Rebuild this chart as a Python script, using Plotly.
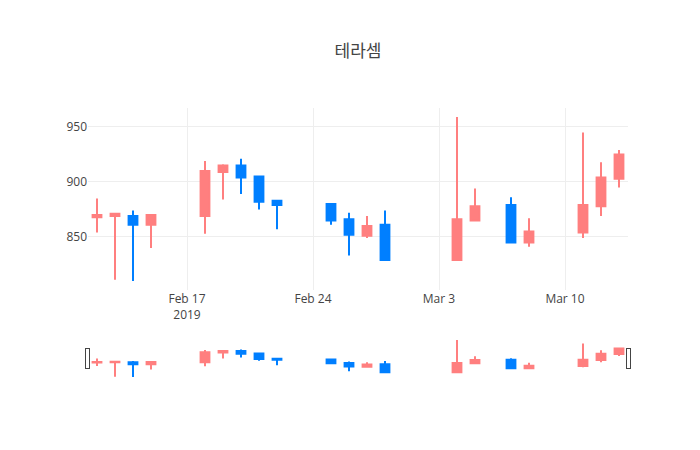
import plotly.graph_objects as go

dates = ["2019-02-12","2019-02-13","2019-02-14","2019-02-15","2019-02-18","2019-02-19","2019-02-20","2019-02-21","2019-02-22",
         "2019-02-25","2019-02-26","2019-02-27","2019-02-28","2019-03-04","2019-03-05","2019-03-07","2019-03-08",
         "2019-03-11","2019-03-12","2019-03-13"]
opens  = [868,869,869,861,869,909,915,905,883,880,866,851,861,829,865,879,845,854,878,903]
highs  = [885,872,874,870,919,916,921,905,883,880,872,869,874,959,894,886,867,945,918,929]
lows   = [854,811,810,840,853,884,889,875,857,861,833,849,829,828,865,845,841,849,869,895]
closes = [870,871,861,870,910,915,904,882,879,865,852,860,829,866,878,845,855,879,904,925]

fig = go.Figure(go.Candlestick(
    x=dates, open=opens, high=highs, low=lows, close=closes,
    increasing=dict(line=dict(color="#FF7F7F"), fillcolor="#FF7F7F"),
    decreasing=dict(line=dict(color="#007FFF"), fillcolor="#007FFF"),
))
fig.update_layout(
    template="none", width=700, height=450,
    margin=dict(l=80, r=80, t=100, b=80),
    paper_bgcolor="white", plot_bgcolor="white",
    title=dict(text="테라셈", x=0.5, xanchor="center", y=0.905, yanchor="middle",
               font=dict(family="Noto Sans CJK KR", size=17, color="#444")),
    font=dict(family="Open Sans", color="#444", size=12),
    xaxis=dict(rangeslider=dict(visible=True), gridcolor="#eee", showline=False, zeroline=False),
    yaxis=dict(gridcolor="#eee", showline=False, zeroline=False),
    showlegend=False,
)
fig.write_html("out.html")
